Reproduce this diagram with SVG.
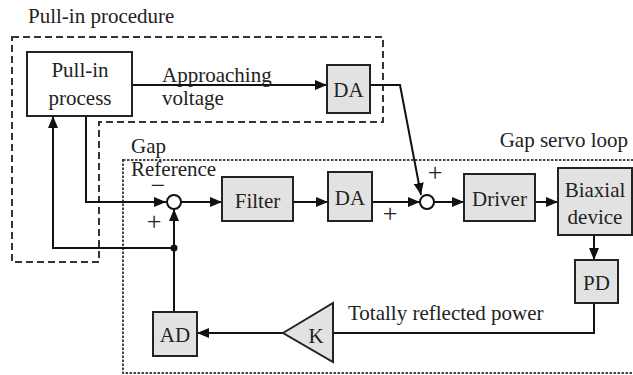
<svg xmlns="http://www.w3.org/2000/svg" width="633" height="375" viewBox="0 0 633 375">
  <defs>
    <marker id="arr" viewBox="0 0 12 10" refX="12" refY="5" markerWidth="12" markerHeight="10" markerUnits="userSpaceOnUse" orient="auto">
      <path d="M0,0 L12,5 L0,10 Z" fill="#111"/>
    </marker>
    <style>
      text { font-family: 'Liberation Serif', 'DejaVu Serif', 'Times New Roman', serif; font-size: 21px; fill: #222; }
      .mid { text-anchor: middle; }
      .sign { text-anchor: middle; font-size: 26px; }
      .blk { fill: #e2e2e2; stroke: #222; stroke-width: 2; }
      .plain { fill: #fff; stroke: #222; stroke-width: 2; }
      .sum { fill: #fff; stroke: #111; stroke-width: 2; }
      .wire { fill: none; stroke: #111; stroke-width: 2; }
      .dash { fill: none; stroke: #333; stroke-width: 2; stroke-dasharray: 7 4; }
      .dot { fill: none; stroke: #444; stroke-width: 2; stroke-dasharray: 2.5 1.5; }
    </style>
  </defs>
  <rect width="633" height="375" fill="#fff"/>

  <!-- group boundaries -->
  <g id="pull-in-procedure">
    <path class="dash" d="M12,37 H383 V122 H99 V262 H12 Z"/>
    <text x="28" y="23">Pull-in procedure</text>
  </g>
  <g id="gap-servo-loop">
    <rect class="dot" x="123" y="160" width="520" height="213"/>
    <text x="628" y="147" text-anchor="end">Gap servo loop</text>
  </g>

  <!-- connectors -->
  <g id="connectors">
    <path class="wire" d="M132,85 H327" marker-end="url(#arr)"/>
    <path class="wire" d="M370,85 H400 L421,195" marker-end="url(#arr)"/>
    <path class="wire" d="M86,116 V202 H166" marker-end="url(#arr)"/>
    <path class="wire" d="M174,248 H53 V116" marker-end="url(#arr)"/>
    <path class="wire" d="M174,312 V209" marker-end="url(#arr)"/>
    <path class="wire" d="M181,202 H222" marker-end="url(#arr)"/>
    <path class="wire" d="M293,202 H328" marker-end="url(#arr)"/>
    <path class="wire" d="M372,202 H420" marker-end="url(#arr)"/>
    <path class="wire" d="M434,202 H464" marker-end="url(#arr)"/>
    <path class="wire" d="M535,202 H558" marker-end="url(#arr)"/>
    <path class="wire" d="M594,235 V260" marker-end="url(#arr)"/>
    <path class="wire" d="M594,303 V333 H333"/>
    <path class="wire" d="M283,333 H197" marker-end="url(#arr)"/>
    <circle cx="174" cy="248" r="3.5" fill="#111"/>
    <text x="162" y="82">Approaching</text>
    <text x="162" y="105">voltage</text>
    <text x="348" y="320">Totally reflected power</text>
    <text x="131" y="153">Gap</text>
    <text x="131" y="176">Reference</text>
    <text x="158" y="194" class="sign">−</text>
    <text x="154" y="230" class="sign">+</text>
    <text x="435" y="181" class="sign">+</text>
    <text x="390" y="222" class="sign">+</text>
  </g>

  <!-- blocks -->
  <g id="pull-in-process">
    <rect class="plain" x="27" y="52" width="105" height="64"/>
    <text x="80" y="77" class="mid">Pull-in</text>
    <text x="80" y="105" class="mid">process</text>
  </g>
  <g id="da-approach">
    <rect class="blk" x="327" y="65" width="43" height="48"/>
    <text x="348.5" y="97" class="mid">DA</text>
  </g>
  <g id="sum-gap">
    <circle class="sum" cx="174" cy="202" r="7"/>
  </g>
  <g id="filter">
    <rect class="blk" x="222" y="177" width="71" height="44"/>
    <text x="257.5" y="208" class="mid">Filter</text>
  </g>
  <g id="da-servo">
    <rect class="blk" x="328" y="172" width="44" height="49"/>
    <text x="350" y="205" class="mid">DA</text>
  </g>
  <g id="sum-drive">
    <circle class="sum" cx="427" cy="202" r="7"/>
  </g>
  <g id="driver">
    <rect class="blk" x="464" y="174" width="71" height="47"/>
    <text x="499.5" y="206" class="mid">Driver</text>
  </g>
  <g id="biaxial-device">
    <rect class="blk" x="558" y="168" width="74" height="67"/>
    <text x="595" y="197" class="mid">Biaxial</text>
    <text x="595" y="224" class="mid">device</text>
  </g>
  <g id="pd">
    <rect class="blk" x="575" y="260" width="43" height="43"/>
    <text x="596.5" y="290" class="mid">PD</text>
  </g>
  <g id="gain-k">
    <path class="blk" d="M283,333 L333,303 V362 Z"/>
    <text x="316" y="343" class="mid">K</text>
  </g>
  <g id="ad">
    <rect class="blk" x="153" y="312" width="44" height="44"/>
    <text x="175" y="342" class="mid">AD</text>
  </g>
</svg>
